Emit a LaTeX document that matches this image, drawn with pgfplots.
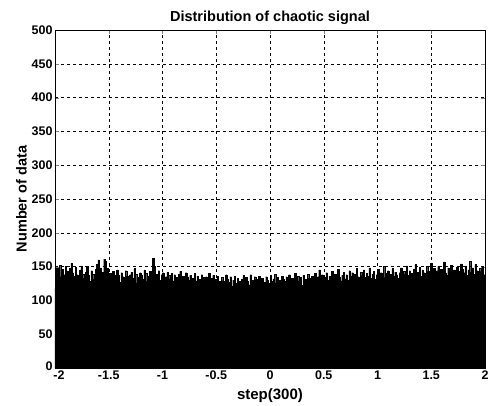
\documentclass[border=0pt]{standalone}
\usepackage{fontspec}
\setmainfont{Liberation Sans}
\usepackage{pgfplots}
\usepackage{pgfplotstable}
\pgfplotsset{compat=1.18}
\pgfplotstableread[row sep=\\]{
y\\
118\\ 148\\ 140\\ 152\\ 135\\ 146\\ 138\\ 150\\ 143\\ 132\\ 147\\ 155\\ 141\\ 136\\ 149\\ 138\\ 130\\ 145\\ 151\\ 139\\
133\\ 142\\ 150\\ 137\\ 128\\ 144\\ 139\\ 131\\ 146\\ 153\\ 160\\ 148\\ 136\\ 142\\ 161\\ 158\\ 147\\ 134\\ 140\\ 129\\
143\\ 137\\ 132\\ 145\\ 138\\ 127\\ 141\\ 135\\ 130\\ 144\\ 136\\ 129\\ 138\\ 142\\ 133\\ 147\\ 139\\ 126\\ 134\\ 141\\
137\\ 131\\ 145\\ 140\\ 128\\ 136\\ 143\\ 134\\ 162\\ 150\\ 139\\ 133\\ 144\\ 130\\ 138\\ 141\\ 127\\ 135\\ 142\\ 137\\
132\\ 140\\ 129\\ 138\\ 134\\ 125\\ 139\\ 143\\ 131\\ 136\\ 128\\ 141\\ 135\\ 130\\ 137\\ 124\\ 133\\ 140\\ 129\\ 136\\
131\\ 127\\ 138\\ 134\\ 121\\ 135\\ 130\\ 140\\ 126\\ 133\\ 137\\ 122\\ 131\\ 136\\ 128\\ 118\\ 134\\ 129\\ 125\\ 138\\
132\\ 127\\ 135\\ 121\\ 130\\ 136\\ 125\\ 133\\ 128\\ 119\\ 131\\ 137\\ 126\\ 134\\ 129\\ 123\\ 138\\ 130\\ 127\\ 135\\
131\\ 124\\ 136\\ 129\\ 133\\ 120\\ 127\\ 135\\ 130\\ 125\\ 137\\ 128\\ 132\\ 139\\ 126\\ 134\\ 130\\ 122\\ 136\\ 131\\
128\\ 135\\ 130\\ 138\\ 124\\ 133\\ 127\\ 140\\ 131\\ 136\\ 129\\ 134\\ 122\\ 137\\ 131\\ 128\\ 139\\ 133\\ 126\\ 136\\
132\\ 140\\ 129\\ 135\\ 145\\ 131\\ 138\\ 127\\ 134\\ 141\\ 130\\ 136\\ 128\\ 143\\ 133\\ 139\\ 131\\ 146\\ 135\\ 129\\
137\\ 142\\ 132\\ 138\\ 130\\ 144\\ 136\\ 141\\ 133\\ 139\\ 147\\ 135\\ 131\\ 142\\ 137\\ 145\\ 134\\ 140\\ 136\\ 148\\
133\\ 139\\ 143\\ 131\\ 138\\ 146\\ 135\\ 141\\ 137\\ 150\\ 134\\ 140\\ 144\\ 132\\ 139\\ 147\\ 136\\ 142\\ 138\\ 133\\
141\\ 148\\ 135\\ 143\\ 139\\ 151\\ 137\\ 144\\ 140\\ 134\\ 146\\ 153\\ 138\\ 142\\ 149\\ 136\\ 145\\ 141\\ 137\\ 150\\
143\\ 139\\ 155\\ 140\\ 147\\ 136\\ 144\\ 150\\ 138\\ 146\\ 142\\ 157\\ 141\\ 137\\ 148\\ 144\\ 152\\ 139\\ 145\\ 140\\
149\\ 143\\ 138\\ 154\\ 146\\ 141\\ 151\\ 137\\ 145\\ 158\\ 142\\ 148\\ 139\\ 153\\ 144\\ 140\\ 147\\ 143\\ 150\\ 138\\
138\\
}\histdata
\begin{document}
\begin{tikzpicture}
\begin{axis}[
  at={(0,0)}, anchor=south west,
  scale only axis,
  width=430pt, height=338pt,
  xmin=-2, xmax=2, ymin=0, ymax=500,
  xtick={-2,-1.5,...,2},
  xticklabels={{\hspace*{8pt}-2},-1.5,-1,-0.5,0,0.5,1,1.5,2},
  ytick={0,50,...,500},
  yticklabels={{\raisebox{3pt}{0}},50,100,150,200,250,300,350,400,450,500},
  tick align=inside,
  major tick length=4pt,
  grid=major,
  major grid style={black, thin, dash pattern=on 3pt off 3pt},
  axis line style={black, thin},
  /pgf/number format/assume math mode=true,
  ticklabel style={font=\bfseries\fontsize{12.5}{13}\selectfont},
  xticklabel style={yshift=1pt},
  yticklabel style={xshift=1pt},
  title={Distribution of chaotic signal},
  title style={font=\bfseries\fontsize{14.5}{15}\selectfont, yshift=-4pt},
  xlabel={step(300)},
  xlabel style={font=\bfseries\fontsize{15}{16}\selectfont, yshift=-2pt},
  ylabel={Number of data},
  ylabel style={font=\bfseries\fontsize{14.5}{15}\selectfont, yshift=-2pt},
  clip=true,
]
\addplot[const plot, fill=black, draw=black, line width=0.3pt]
  table[x expr={-2+\coordindex*4/300}, y=y] {\histdata} \closedcycle;
\end{axis}
\path[use as bounding box] (-55pt,-37pt) rectangle (438pt,368pt);
\end{tikzpicture}
\end{document}
